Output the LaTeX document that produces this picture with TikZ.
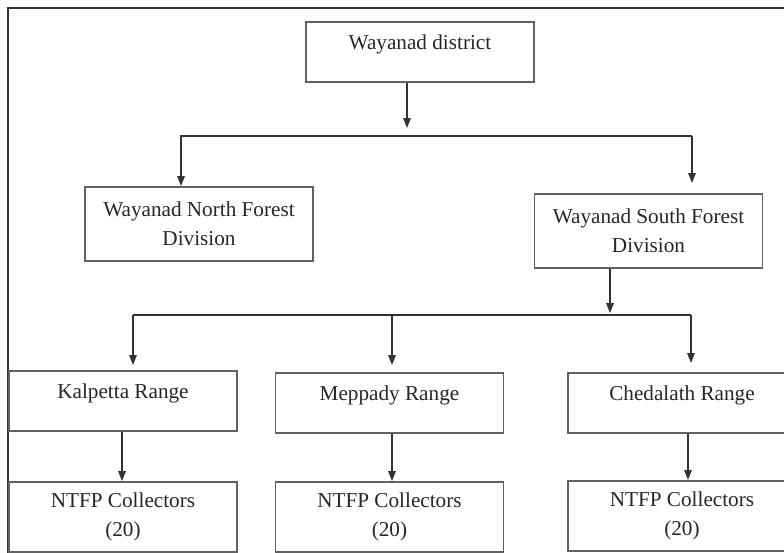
\documentclass[tikz,border=0pt]{standalone}
\usepackage{fontspec}
\setmainfont{Liberation Serif}
\usetikzlibrary{arrows.meta}
\definecolor{boxgray}{gray}{0.38}
\definecolor{linegray}{gray}{0.2}
\definecolor{textgray}{gray}{0.15}

\begin{document}
\begin{tikzpicture}[x=0.5pt,y=-0.5pt]
\tikzstyle{box}=[
  draw=boxgray,
  line width=0.8pt,
  minimum width=114pt,
  inner sep=0pt,
  align=center,
  anchor=north,
  text=textgray,
  font=\fontsize{10.6pt}{14.3pt}\selectfont ]
\tikzstyle{one}=[box, text height=13.75pt, text depth=16.25pt]
\tikzstyle{two}=[box, minimum height=37pt]
\tikzstyle{link}=[draw=linegray, line width=0.6pt]
\tikzstyle{arr}=[link, -{Triangle[width=3.8pt,length=5pt]}]
\useasboundingbox (0,0) rectangle (784,553);
\draw[link] (8,553) -- (8,8) -- (784,8);
% boxes
\node[one] (dist) at (420,21) {Wayanad district};
\node[two] (north) at (199,186) {Wayanad North Forest\\Division};
\node[two] (south) at (648.5,193) {Wayanad South Forest\\Division};
\node[one] (kal) at (123,370) {Kalpetta Range};
\node[one] (mep) at (389.5,372) {Meppady Range};
\node[one] (ched) at (682,372) {Chedalath Range};
\node[two, minimum height=35pt] (kalc) at (123,481) {NTFP Collectors\\(20)};
\node[two, minimum height=35pt] (mepc) at (389.5,481) {NTFP Collectors\\(20)};
\node[two, minimum height=35pt] (chedc) at (682,480) {NTFP Collectors\\(20)};
% first split
\coordinate (d1) at (407,0);
\coordinate (b1l) at (181,136);
\coordinate (b1r) at (692,136);
\draw[arr, shorten >=4pt] (dist.south -| d1) -- (d1 |- b1l);
\draw[arr] (b1r) -- (b1l) -- (north.north -| b1l);
\draw[arr, shorten >=5pt] (b1r) -- (south.north -| b1r);
% second split
\coordinate (s2) at (610,0);
\coordinate (b2l) at (133,315);
\coordinate (b2m) at (392,315);
\coordinate (b2r) at (691,315);
\draw[arr, shorten >=1pt] (south.south -| s2) -- (s2 |- b2l);
\draw[link] (b2l) -- (b2r);
\draw[arr, shorten >=2.5pt] (b2l) -- (kal.north -| b2l);
\draw[arr, shorten >=3.5pt] (b2m) -- (mep.north -| b2m);
\draw[arr, shorten >=4.5pt] (b2r) -- (ched.north -| b2r);
% ranges to collectors
\foreach \a/\b/\x in {kal/kalc/122, mep/mepc/392, ched/chedc/688}{
  \coordinate (c) at (\x,0);
  \draw[arr] (\a.south -| c) -- (\b.north -| c);
}
\end{tikzpicture}
\end{document}
